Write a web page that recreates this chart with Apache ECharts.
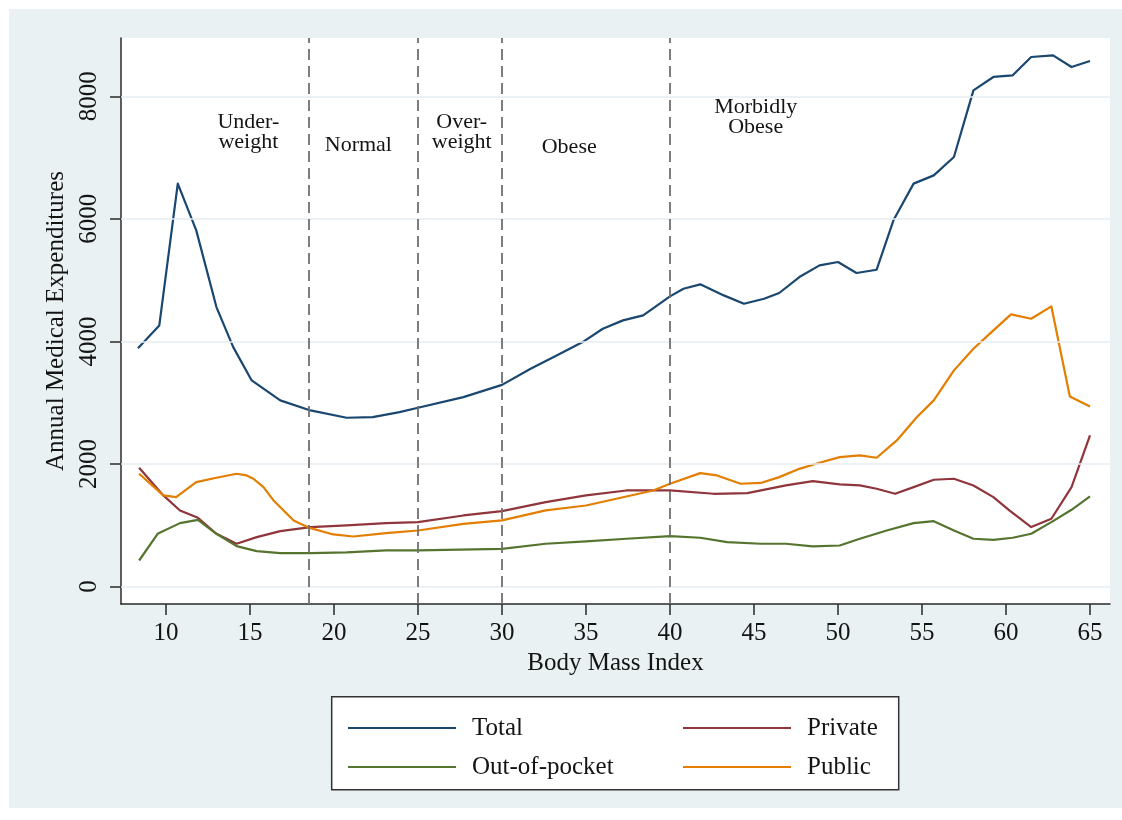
<!DOCTYPE html>
<html>
<head>
<meta charset="utf-8">
<script src="https://cdn.jsdelivr.net/npm/echarts@6/dist/echarts.min.js"></script>
<style>
  html, body { margin: 0; padding: 0; background: #ffffff; }
  #wrap { position: relative; width: 1122px; height: 820px; background: #ffffff; }
  #chart { position: absolute; left: 9px; top: 9px; width: 1113px; height: 799px; }
</style>
</head>
<body>
<div id="wrap"><div id="chart"></div></div>
<script>
// ---- data ----
const totalBmi = [8.33, 9.6, 10.7, 11.8, 13.0, 14.0, 15.1, 16.8, 18.6, 20.75, 22.3, 23.9, 25.0, 27.7, 30.0, 31.7, 33.25, 34.8, 36.0, 37.2, 38.4, 40.0, 40.8, 41.8, 43.2, 44.4, 45.6, 46.5, 47.7, 48.9, 50.0, 51.1, 52.3, 53.3, 54.5, 55.7, 56.9, 58.06, 59.25, 60.4, 61.5, 62.8, 63.9, 65.0];
const totalVals = [3890, 4261, 6575, 5812, 4560, 3907, 3363, 3037, 2873, 2754, 2764, 2846, 2917, 3091, 3290, 3554, 3771, 3989, 4207, 4343, 4424, 4735, 4860, 4931, 4751, 4615, 4697, 4790, 5050, 5241, 5296, 5116, 5170, 5976, 6575, 6710, 7010, 8098, 8316, 8343, 8642, 8669, 8478, 8576];

const privateBmi = [8.4, 9.84, 10.83, 11.9, 13.0, 14.2, 15.4, 16.8, 18.6, 20.75, 23.1, 25.0, 27.7, 30.0, 32.6, 35.0, 37.4, 40.0, 42.6, 44.6, 46.9, 48.5, 50.1, 51.3, 52.3, 53.4, 54.5, 55.7, 56.9, 58.06, 59.25, 60.2, 61.5, 62.7, 63.9, 65.0];
const privateVals = [1938, 1486, 1241, 1121, 860, 697, 805, 903, 969, 996, 1034, 1050, 1159, 1230, 1376, 1486, 1567, 1567, 1513, 1524, 1649, 1720, 1665, 1649, 1595, 1513, 1622, 1742, 1758, 1649, 1458, 1241, 969, 1105, 1622, 2465];

const oopBmi = [8.4, 9.5, 10.83, 11.9, 13.0, 14.2, 15.4, 16.8, 18.6, 20.75, 23.1, 25.0, 30.0, 32.6, 35.0, 37.4, 40.0, 41.8, 43.4, 45.4, 46.9, 48.5, 50.1, 51.3, 52.9, 54.5, 55.7, 56.9, 58.06, 59.25, 60.4, 61.5, 62.7, 63.9, 65.0];
const oopVals = [424, 860, 1034, 1088, 860, 658, 577, 544, 544, 555, 588, 588, 615, 697, 735, 779, 821, 795, 724, 697, 697, 653, 669, 779, 914, 1034, 1066, 914, 779, 762, 795, 860, 1050, 1252, 1469];

const publicBmi = [8.4, 9.84, 10.6, 11.8, 13.0, 14.2, 14.8, 15.2, 15.8, 16.4, 17.0, 17.6, 18.0, 18.6, 19.96, 21.15, 23.1, 25.0, 27.7, 30.0, 32.6, 35.0, 37.4, 39.0, 40.0, 41.8, 42.8, 44.2, 45.4, 46.5, 47.7, 48.9, 50.1, 51.3, 52.3, 53.5, 54.7, 55.7, 56.9, 58.06, 59.25, 60.3, 61.5, 62.7, 63.8, 65.0];
const publicVals = [1840, 1486, 1459, 1703, 1774, 1840, 1812, 1758, 1621, 1404, 1241, 1078, 1023, 952, 849, 816, 870, 914, 1023, 1078, 1241, 1322, 1469, 1567, 1677, 1850, 1812, 1677, 1690, 1785, 1920, 2019, 2111, 2139, 2101, 2384, 2765, 3037, 3527, 3880, 4180, 4441, 4370, 4571, 3102, 2939];

const xTicks = [10, 15, 20, 25, 30, 35, 40, 45, 50, 55, 60, 65];
const yTicks = [0, 2000, 4000, 6000, 8000];
const cutoffs = [18.5, 25, 30, 40];
const zoneLabels = ['Under-\nweight', 'Normal', 'Over-\nweight', 'Obese', 'Morbidly\nObese'];
const zoneLabelX = [14.9, 21.45, 27.6, 34.0, 45.1];
const zoneLabelY = [7420, 7200, 7420, 7170, 7660];

// ---- helpers ----
const pairs = (xs, ys) => xs.map((x, i) => [x, ys[i]]);
const FONT = '"Liberation Serif", "DejaVu Serif", serif';
const TXT = '#141414';

const chart = echarts.init(document.getElementById('chart'), null, { renderer: 'canvas' });

function lineSeries(name, data, color) {
  return {
    name: name, type: 'line', data: data,
    showSymbol: false, symbol: 'none',
    smooth: false,
    lineStyle: { color: color, width: 2.2, join: 'round' },
    itemStyle: { color: color },
    z: 3, animation: false
  };
}

const option = {
  backgroundColor: '#eaf1f3',
  animation: false,
  grid: {
    left: 112, top: 29, right: 12, bottom: 204,
    show: true, backgroundColor: '#ffffff', borderWidth: 0
  },
  xAxis: {
    type: 'value', min: 7.32, max: 66.19,
    name: 'Body Mass Index', nameLocation: 'middle', nameGap: 46,
    nameTextStyle: { fontFamily: FONT, fontSize: 25, color: TXT },
    axisLine: { show: true, onZero: false, lineStyle: { color: '#2a2a2a', width: 1.5 } },
    axisTick: { show: true, length: 11, customValues: xTicks, lineStyle: { color: '#2a2a2a', width: 1.5 } },
    axisLabel: { customValues: xTicks, fontFamily: FONT, fontSize: 25, color: TXT, margin: 17 },
    splitLine: { show: false }
  },
  yAxis: {
    type: 'value', min: -286, max: 8952,
    name: 'Annual Medical Expenditures', nameLocation: 'middle', nameGap: 50,
    nameTextStyle: { fontFamily: FONT, fontSize: 25, color: TXT },
    axisLine: { show: true, onZero: false, lineStyle: { color: '#2a2a2a', width: 1.5 } },
    axisTick: { show: true, length: 11, customValues: yTicks, lineStyle: { color: '#2a2a2a', width: 1.5 } },
    axisLabel: {
      customValues: yTicks, rotate: 90, fontFamily: FONT, fontSize: 25, color: TXT, margin: 19,
      formatter: v => String(Math.round(v))
    },
    splitLine: { show: false }
  },
  legend: [
    {
      data: ['Total', 'Out-of-pocket'], orient: 'vertical',
      left: 334, top: 699, itemGap: 9, itemWidth: 108, itemHeight: 2, icon: 'rect',
      textStyle: { fontFamily: FONT, fontSize: 25, color: TXT, lineHeight: 30, padding: [0, 0, 0, 11] },
      selectedMode: false, z: 10
    },
    {
      data: ['Private', 'Public'], orient: 'vertical',
      left: 669, top: 699, itemGap: 9, itemWidth: 108, itemHeight: 2, icon: 'rect',
      textStyle: { fontFamily: FONT, fontSize: 25, color: TXT, lineHeight: 30, padding: [0, 0, 0, 11] },
      selectedMode: false, z: 10
    }
  ],
  graphic: [
    {
      type: 'rect', z: 1,
      shape: { x: 322.7, y: 687.7, width: 567, height: 93 },
      style: { fill: '#ffffff', stroke: '#333333', lineWidth: 1.5 }
    }
  ],
  series: [
    {
      name: 'grid', type: 'line', data: [], silent: true, z: 1,
      markLine: {
        silent: true, symbol: ['none', 'none'], label: { show: false },
        lineStyle: { color: '#e4edf0', width: 1.6, type: 'solid' },
        data: yTicks.map(v => ({ yAxis: v }))
      }
    },
    {
      name: 'cutoffs', type: 'line', data: [], silent: true, z: 2,
      markLine: {
        silent: true, symbol: ['none', 'none'], label: { show: false },
        lineStyle: { color: '#707070', width: 1.8, type: [11, 6] },
        data: cutoffs.map(v => ({ xAxis: v }))
      }
    },
    lineSeries('Total', pairs(totalBmi, totalVals), '#1a476f'),
    lineSeries('Private', pairs(privateBmi, privateVals), '#90353b'),
    lineSeries('Out-of-pocket', pairs(oopBmi, oopVals), '#55752f'),
    lineSeries('Public', pairs(publicBmi, publicVals), '#e37e00'),
    {
      name: 'zones', type: 'scatter', symbolSize: 0, silent: true, z: 4,
      itemStyle: { opacity: 1 },
      data: zoneLabels.map((t, i) => ({ value: [zoneLabelX[i], zoneLabelY[i]], name: t })),
      label: {
        show: true, position: 'inside', formatter: p => p.name, opacity: 1,
        fontFamily: FONT, fontSize: 22, lineHeight: 20, color: TXT, align: 'center', verticalAlign: 'middle'
      }
    }
  ]
};
chart.setOption(option);
</script>
</body>
</html>
